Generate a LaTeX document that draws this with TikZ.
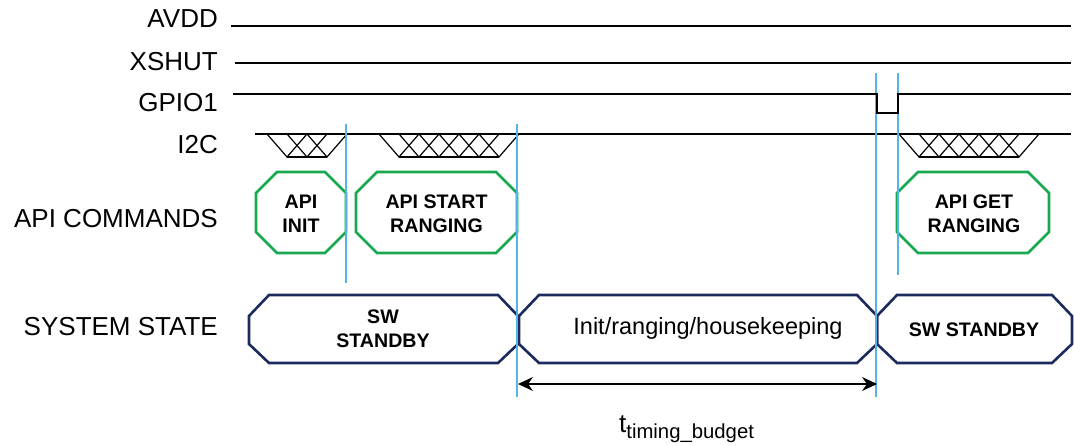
\documentclass[tikz,border=0pt]{standalone}
\usepackage{fontspec}
\setmainfont{Liberation Sans}
\usetikzlibrary{arrows.meta}

\definecolor{apigreen}{RGB}{24,168,80}
\definecolor{statenavy}{RGB}{28,42,94}
\definecolor{markblue}{RGB}{84,180,230}

\begin{document}
\begin{tikzpicture}[x=1pt,y=-1pt,
    sig/.style={anchor=east,inner sep=0pt,font=\fontsize{26}{30}\selectfont},
    wire/.style={line width=1.2pt,line join=miter},
    apibox/.style={draw=apigreen,line width=2.6pt},
    statebox/.style={draw=statenavy,line width=2.6pt},
    boxtext/.style={align=center,inner sep=0pt,font=\fontsize{19.6}{23.5}\selectfont\bfseries},
    marker/.style={draw=markblue,line width=1.2pt}]

        \useasboundingbox (0,0) rectangle (1074,446);

        % signal names
        \node[sig] (avdd)  at (218,19)  {AVDD};
        \node[sig] (xshut) at (218,62)  {XSHUT};
        \node[sig] (gpio)  at (218,103) {GPIO1};
        \node[sig] (itwoc) at (218,145) {I2C};
        \node[sig] (api)   at (218,219) {API COMMANDS};
        \node[sig] (state) at (218,327) {SYSTEM STATE};

        \draw[wire] (231,26) -- (1071,26);
        \draw[wire] (235,63) -- (1071,63);
        \draw[wire] (255,134) -- (1071,134);

        % i2c bursts
        \foreach \x/\n in {267/2, 379/5, 899/5}{
          \draw[wire] (\x+20,157) -- (\x+20+\n*20,157);
          \foreach \k in {0,...,\n}{
            \draw[wire] (\x+\k*20,134) -- (\x+\k*20+20,157) -- (\x+\k*20+40,134);
          }
        }

        \foreach \xa/\xb in {256/346, 356/517, 897/1049}{
          \draw[apibox] (\xa,193) -- (\xa+21,172) -- (\xb-21,172) -- (\xb,193)
            -- (\xb,232) -- (\xb-21,253) -- (\xa+21,253) -- (\xa,232) -- cycle;
        }

        \foreach \xa/\xb in {249/518, 519/877, 877/1072}{
          \draw[statebox] (\xa,316) -- (\xa+20,295) -- (\xb-20,295) -- (\xb,316)
            -- (\xb,344) -- (\xb-20,363) -- (\xa+20,363) -- (\xa,344) -- cycle;
        }

        \node[boxtext] (init)  at (301,214)   {API\\INIT};
        \node[boxtext] (start) at (436.5,214) {API START\\RANGING};
        \node[boxtext] (get)   at (974,214)   {API GET\\RANGING};

        \node[boxtext] (sby1) at (383,329) {SW\\STANDBY};
        \node[anchor=base,inner sep=0pt,font=\fontsize{23.5}{28}\selectfont] (busy) at (708,335) {Init/ranging/housekeeping};
        \node[boxtext] (sby2) at (974,330) {SW STANDBY};

        \draw[marker] (346,124) -- (346,283);
        \draw[marker] (517,124) -- (517,397);
        \draw[marker] (876,73) -- (876,397);
        \draw[marker] (898,73) -- (898,275);

        % gpio1 pulse over the markers
        \draw[wire] (233,94) -- (877,94) -- (877,113) -- (898,113) -- (898,94) -- (1071,94);

        \coordinate (tstart) at (518,384);
        \coordinate (tend) at (877,384);
        \draw[line width=1.2pt,{Stealth[length=15pt,width=14pt,inset=5pt]}-{Stealth[length=15pt,width=14pt,inset=5pt]}] (tstart) -- (tend);

        \node[anchor=base west,inner sep=0pt] (budget) at (619,432)
          {{\fontsize{26}{30}\selectfont t}\raisebox{-6pt}{\fontsize{20.3}{24}\selectfont timing\_budget}};
      \end{tikzpicture}
\end{document}
